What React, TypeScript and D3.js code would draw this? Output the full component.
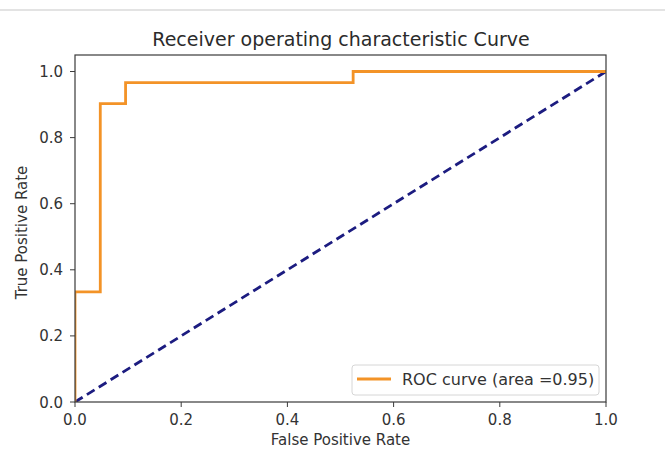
import React from "react";
import * as d3 from "d3";

// ROC curve points (false positive rate, true positive rate)
const fpr = [0, 0, 1 / 21, 1 / 21, 2 / 21, 2 / 21, 11 / 21, 11 / 21, 1];
const tpr = [0, 10 / 30, 10 / 30, 0.903, 0.903, 29 / 30, 29 / 30, 1, 1];
const chance = [0, 1];
const xTicks = [0, 0.2, 0.4, 0.6, 0.8, 1.0];
const yTicks = [0, 0.2, 0.4, 0.6, 0.8, 1.0];
const aucLabel = "ROC curve (area =0.95)";

const W = 665;
const H = 475;
const M = { left: 75, right: 606, top: 55, bottom: 402 };
const FONT = "DejaVu Sans, sans-serif";

export default function App() {
  const x = d3.scaleLinear().domain([0, 1]).range([M.left, M.right]);
  const y = d3.scaleLinear().domain([0, 1.05]).range([M.bottom, M.top]);
  const line = d3
    .line<number>()
    .x((_, i) => x(fpr[i]))
    .y((d) => y(d));
  const diag = d3
    .line<number>()
    .x((d) => x(d))
    .y((d) => y(d));

  return (
    <svg
      width={W}
      height={H}
      style={{ position: "absolute", left: 0, top: 0, background: "#fff" }}
      fontFamily={FONT}
    >
      <rect x={0} y={9} width={W} height={2} fill="#e3e3e3" />
      <text x={(M.left + M.right) / 2 + 0.5} y={46} textAnchor="middle" fontSize={19} fill="#2b2b2b">
        Receiver operating characteristic Curve
      </text>
      <defs>
        <clipPath id="plotclip">
          <rect x={M.left} y={M.top} width={M.right - M.left} height={M.bottom - M.top} />
        </clipPath>
      </defs>
      <g clipPath="url(#plotclip)">
        <path d={diag(chance) || ""} fill="none" stroke="#1c1c80" strokeWidth={2.8} strokeDasharray="9,5" />
        <path d={line(tpr) || ""} fill="none" stroke="#f39327" strokeWidth={2.8} />
      </g>
      <rect
        x={M.left}
        y={M.top}
        width={M.right - M.left}
        height={M.bottom - M.top}
        fill="none"
        stroke="#3a3a3a"
        strokeWidth={1.2}
      />
      {xTicks.map((t) => (
        <g key={"x" + t}>
          <line x1={x(t)} x2={x(t)} y1={M.bottom} y2={M.bottom + 5} stroke="#3a3a3a" />
          <text x={x(t)} y={M.bottom + 23} textAnchor="middle" fontSize={15} fill="#333">
            {t.toFixed(1)}
          </text>
        </g>
      ))}
      {yTicks.map((t) => (
        <g key={"y" + t}>
          <line x1={M.left - 5} x2={M.left} y1={y(t)} y2={y(t)} stroke="#3a3a3a" />
          <text x={M.left - 12} y={y(t) + 5.5} textAnchor="end" fontSize={15} fill="#333">
            {t.toFixed(1)}
          </text>
        </g>
      ))}
      <text x={(M.left + M.right) / 2} y={445} textAnchor="middle" fontSize={15} fill="#333">
        False Positive Rate
      </text>
      <text
        transform={`translate(27,${(M.top + M.bottom) / 2 + 4}) rotate(-90)`}
        textAnchor="middle"
        fontSize={15}
        fill="#333"
      >
        True Positive Rate
      </text>
      <g>
        <rect x={352} y={365} width={247} height={30} rx={3} fill="#fff" fillOpacity={0.85} stroke="#d6d6d6" />
        <line x1={357} x2={391} y1={379} y2={379} stroke="#f39327" strokeWidth={2.8} />
        <text x={402} y={385} fontSize={16} fill="#333">
          {aucLabel}
        </text>
      </g>
    </svg>
  );
}
